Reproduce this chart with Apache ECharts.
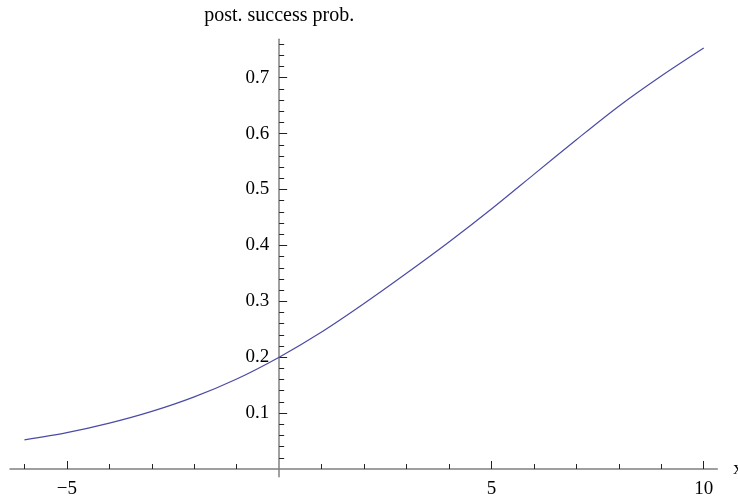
<!DOCTYPE html>
<html>
<head>
<meta charset="utf-8">
<script src="https://cdn.jsdelivr.net/npm/echarts@6/dist/echarts.min.js"></script>
<style>
html,body{margin:0;padding:0;background:#fff;}
#chart{width:738px;height:497px;}
</style>
</head>
<body>
<div id="chart"></div>
<script>
// Data
const xValues = [-6, -5, -4, -3, -2, -1, 0, 1, 2, 3, 4, 5, 6, 7, 8, 9, 10];
const probValues = [0.052, 0.065, 0.082, 0.103, 0.129, 0.161, 0.200, 0.245, 0.296, 0.350, 0.406, 0.465, 0.527, 0.589, 0.649, 0.703, 0.753];

// Tick labels / tick positions
const xMajorTicks = [-5, 5, 10];
const xMinorTicks = [-6, -4, -3, -2, -1, 1, 2, 3, 4, 6, 7, 8, 9];
const yMajorTicks = [0.1, 0.2, 0.3, 0.4, 0.5, 0.6, 0.7];
const yMajorLabels = ['0.1', '0.2', '0.3', '0.4', '0.5', '0.6', '0.7'];
const yMinorTicks = [0.02, 0.04, 0.06, 0.08, 0.12, 0.14, 0.16, 0.18, 0.22, 0.24, 0.26, 0.28,
  0.32, 0.34, 0.36, 0.38, 0.42, 0.44, 0.46, 0.48, 0.52, 0.54, 0.56, 0.58,
  0.62, 0.64, 0.66, 0.68, 0.72, 0.74, 0.76];
const yTitle = 'post. success prob.';
const xTitle = 'x';

const W = 738, H = 497;
const X_MIN = -6.34, X_MAX = 10.32;
const Y_MIN = -0.0138, Y_MAX = 0.7687;
const G_LEFT = 10, G_RIGHT = 20.7, G_TOP = 39.3, G_BOTTOM = 20.3;
const FONT = '"Liberation Serif", "DejaVu Serif", serif';

// place axes at the origin (Mathematica style): move them inward with a negative offset
const gridW = W - G_LEFT - G_RIGHT;
const gridH = H - G_TOP - G_BOTTOM;
const yAxisOffset = -((0 - X_MIN) / (X_MAX - X_MIN)) * gridW;
const xAxisOffset = -((0 - Y_MIN) / (Y_MAX - Y_MIN)) * gridH;

const chart = echarts.init(document.getElementById('chart'), null, {renderer: 'canvas'});

const seriesData = xValues.map((x, i) => [x, probValues[i]]);

function fmtX(v) {
  const n = Number(v);
  return n < 0 ? '\u2212' + Math.abs(n) : String(n);
}
function fmtY(v) {
  const n = Number(v);
  let best = 0;
  for (let i = 1; i < yMajorTicks.length; i++) {
    if (Math.abs(yMajorTicks[i] - n) < Math.abs(yMajorTicks[best] - n)) best = i;
  }
  return yMajorLabels[best];
}

const option = {
  animation: false,
  backgroundColor: '#ffffff',
  grid: {left: G_LEFT, right: G_RIGHT, top: G_TOP, bottom: G_BOTTOM, containLabel: false, outerBoundsMode: 'none'},
  xAxis: [
    {
      type: 'value', min: X_MIN, max: X_MAX, position: 'bottom', offset: xAxisOffset,
      name: xTitle, nameLocation: 'end', nameGap: 16,
      nameTextStyle: {fontFamily: FONT, fontSize: 19, color: '#000', align: 'left', verticalAlign: 'middle'},
      axisLine: {show: true, onZero: false, lineStyle: {color: '#808080', width: 1.5}},
      axisTick: {show: true, inside: true, length: 8, customValues: xMajorTicks, lineStyle: {color: '#222', width: 1}},
      axisLabel: {show: true, customValues: xMajorTicks, formatter: fmtX, margin: 11,
        fontFamily: FONT, fontSize: 19, color: '#000'},
      splitLine: {show: false}
    },
    {
      type: 'value', min: X_MIN, max: X_MAX, position: 'bottom', offset: xAxisOffset,
      axisLine: {show: false, onZero: false},
      axisTick: {show: true, inside: true, length: 5, customValues: xMinorTicks, lineStyle: {color: '#222', width: 1}},
      axisLabel: {show: false},
      splitLine: {show: false}
    }
  ],
  yAxis: [
    {
      type: 'value', min: Y_MIN, max: Y_MAX, position: 'left', offset: yAxisOffset,
      name: yTitle, nameLocation: 'end', nameGap: 14,
      nameTextStyle: {fontFamily: FONT, fontSize: 20, color: '#000', align: 'center', verticalAlign: 'bottom'},
      axisLine: {show: true, onZero: false, lineStyle: {color: '#808080', width: 1.5}},
      axisTick: {show: true, inside: true, length: 8, customValues: yMajorTicks, lineStyle: {color: '#222', width: 1}},
      axisLabel: {show: true, customValues: yMajorTicks, margin: 10, formatter: fmtY,
        fontFamily: FONT, fontSize: 19, color: '#000'},
      splitLine: {show: false}
    },
    {
      type: 'value', min: Y_MIN, max: Y_MAX, position: 'left', offset: yAxisOffset,
      axisLine: {show: false, onZero: false},
      axisTick: {show: true, inside: true, length: 5, customValues: yMinorTicks, lineStyle: {color: '#222', width: 1}},
      axisLabel: {show: false},
      splitLine: {show: false}
    }
  ],
  series: [
    {
      type: 'line',
      xAxisIndex: 0, yAxisIndex: 0,
      data: seriesData,
      smooth: 0.3,
      showSymbol: false,
      symbol: 'none',
      lineStyle: {color: '#4b4ba6', width: 1.2},
      clip: false
    }
  ]
};

chart.setOption(option);
</script>
</body>
</html>
